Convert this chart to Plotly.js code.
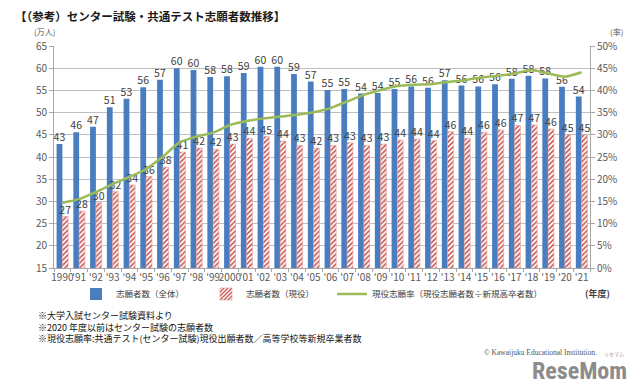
<!DOCTYPE html>
<html>
<head>
<meta charset="utf-8">
<script src="https://cdn.plot.ly/plotly-3.0.1.min.js"></script>
<style>html,body{margin:0;padding:0;background:#fff;}#chart{width:640px;height:390px;}</style>
</head>
<body>
<div id="chart"></div>
<script>
// ---- data ----
const years = ['1990',"'91","'92","'93","'94","'95","'96","'97","'98","'99",'2000',"'01","'02","'03","'04","'05","'06","'07","'08","'09","'10","'11","'12","'13","'14","'15","'16","'17","'18","'19","'20","'21"];
// 志願者数（全体） 万人
const totalApplicants = [42.9,45.6,46.8,51.2,53.1,55.7,57.4,60.0,59.6,58.0,58.2,58.9,60.3,60.3,58.7,57.0,55.1,55.3,54.3,54.4,55.3,55.9,55.6,57.3,56.1,55.9,56.4,57.6,58.3,57.7,55.8,53.6];
// 志願者数（現役） 万人
const currentApplicants = [26.6,27.8,29.7,32.2,33.7,35.6,37.7,41.1,42.0,41.7,42.9,44.2,44.6,43.6,42.6,42.0,42.6,43.2,42.6,42.9,43.8,44.0,43.7,45.7,44.2,45.6,46.1,47.1,47.2,46.3,45.0,45.0];
// 現役志願率 %
const currentRate = [14.7,15.5,17.1,18.9,20.5,22.3,25.1,28.3,29.6,30.5,32.2,33.1,33.7,34.1,34.5,35.1,36.0,37.5,39.0,40.1,41.0,41.3,41.4,41.9,42.3,42.9,43.3,43.8,44.6,43.8,43.1,44.1];

const seriesNames = ['志願者数（全体）','志願者数（現役）','現役志願率（現役志願者数÷新規高卒者数）'];
const footnotes = ['※大学入試センター試験資料より','※2020 年度以前はセンター試験の志願者数','※現役志願率:共通テスト(センター試験)現役出願者数／高等学校等新規卒業者数'];

const FONT = '"Noto Sans CJK JP", "Noto Sans", sans-serif';
const W = 640, H = 390, L = 54, R = 50, T = 46, B = 122;
const pw = W - L - R, ph = H - T - B;
const px = x => (x - L) / pw;
const py = y => (H - B - y) / ph;

const traces = [
  {
    type: 'bar', name: seriesNames[0], x: years, y: totalApplicants, legend: 'legend',
    marker: {color: '#4A7DBF', line: {width: 0}},
    text: totalApplicants.map(v => Math.round(v).toString()),
    textposition: 'outside', constraintext: 'none', cliponaxis: false,
    textfont: {family: FONT, size: 10.5, color: '#404040'},
    hoverinfo: 'skip'
  },
  {
    type: 'bar', name: seriesNames[1], x: years, y: currentApplicants, legend: 'legend',
    marker: {color: '#FFFFFF', line: {width: 0.6, color: '#E39A98'},
             pattern: {shape: '/', fgcolor: '#C8504D', bgcolor: '#FFFFFF', size: 3.5, solidity: 0.45}},
    text: currentApplicants.map(v => Math.round(v).toString()),
    textposition: 'outside', constraintext: 'none', cliponaxis: false,
    textfont: {family: FONT, size: 10.5, color: '#404040'},
    hoverinfo: 'skip'
  },
  {
    type: 'scatter', mode: 'lines', name: seriesNames[2], x: years, y: currentRate, yaxis: 'y2', legend: 'legend2',
    line: {color: '#9BBB59', width: 2.5, shape: 'spline', smoothing: 0.6},
    hoverinfo: 'skip'
  }
];

const legendFont = {family: FONT, size: 8.5, color: '#404040'};

const layout = {
  width: W, height: H,
  margin: {l: L, r: R, t: T, b: B, pad: 0},
  paper_bgcolor: '#FFFFFF', plot_bgcolor: '#FFFFFF',
  font: {family: FONT, size: 10, color: '#595959'},
  title: {text: '<b>【（参考）センター試験・共通テスト志願者数推移】</b>', x: 15 / W, xanchor: 'left', xref: 'container',
          y: 1 - 17 / H, yanchor: 'middle', yref: 'container',
          font: {family: FONT, size: 11.5, color: '#1A1A1A'}},
  barmode: 'group', bargap: 0.31, bargroupgap: 0,
  showlegend: true,
  legend: {orientation: 'h', x: px(76), xanchor: 'left', xref: 'paper', y: py(294), yanchor: 'middle',
           entrywidth: 85, entrywidthmode: 'pixels', itemwidth: 30, traceorder: 'normal',
           font: legendFont, bgcolor: 'rgba(0,0,0,0)'},
  legend2: {orientation: 'h', x: px(332), xanchor: 'left', xref: 'paper', y: py(294), yanchor: 'middle',
            itemwidth: 30, font: legendFont, bgcolor: 'rgba(0,0,0,0)'},
  xaxis: {type: 'category', showline: true, linecolor: '#A6A6A6', linewidth: 1,
          ticks: 'outside', tickson: 'boundaries', ticklen: 3, tickcolor: '#A6A6A6',
          tickfont: {family: FONT, size: 10, color: '#595959'}, tickangle: 0, showgrid: false, fixedrange: true},
  yaxis: {range: [15, 65], dtick: 5, tick0: 15, showline: true, linecolor: '#A6A6A6', linewidth: 1,
          ticks: 'outside', ticklen: 4, tickcolor: '#A6A6A6', showgrid: true, gridcolor: '#BFBFBF', gridwidth: 1,
          zeroline: false, tickfont: {family: FONT, size: 10, color: '#595959'}, fixedrange: true},
  yaxis2: {range: [0, 50], dtick: 5, tick0: 0, overlaying: 'y', side: 'right', ticksuffix: '%',
           showline: true, linecolor: '#A6A6A6', linewidth: 1, ticks: 'outside', ticklen: 4, tickcolor: '#A6A6A6',
           showgrid: false, zeroline: false, tickfont: {family: FONT, size: 10, color: '#595959'}, fixedrange: true},
  annotations: [
    {text: '(万人)', xref: 'paper', yref: 'paper', x: px(44.5), y: py(32), showarrow: false,
     font: {family: FONT, size: 8, color: '#595959'}, xanchor: 'center', yanchor: 'middle', borderpad: 0},
    {text: '(率)', xref: 'paper', yref: 'paper', x: px(616), y: py(32), showarrow: false,
     font: {family: FONT, size: 8, color: '#595959'}, xanchor: 'center', yanchor: 'middle', borderpad: 0},
    {text: '<b>(年度)</b>', xref: 'paper', yref: 'paper', x: px(597), y: py(293), showarrow: false,
     font: {family: FONT, size: 9, color: '#404040'}, xanchor: 'center', yanchor: 'middle'},
    {text: footnotes.join('<br>'), xref: 'paper', yref: 'paper', x: px(36), y: py(327), showarrow: false, align: 'left',
     font: {family: FONT, size: 9, color: '#111111'}, xanchor: 'left', yanchor: 'middle'},
    {text: '© Kawaijuku Educational Institution.', xref: 'paper', yref: 'paper', x: px(482), y: py(352), showarrow: false,
     font: {family: '"Liberation Serif", serif', size: 7.5, color: '#555555'}, xanchor: 'left', yanchor: 'middle'},
    {text: '<b>ReseMom</b>', xref: 'paper', yref: 'paper', x: px(530), y: py(371), showarrow: false,
     font: {family: '"Liberation Sans Narrow", "Roboto Condensed", "Liberation Sans", sans-serif', size: 24, color: '#8C8C8C'},
     xanchor: 'left', yanchor: 'middle'},
    {text: 'リセマム', xref: 'paper', yref: 'paper', x: px(614), y: py(354), showarrow: false,
     font: {family: FONT, size: 5, color: '#9A9A9A'}, xanchor: 'center', yanchor: 'middle'}
  ]
};

Plotly.newPlot('chart', traces, layout, {displayModeBar: false, staticPlot: true});
</script>
</body>
</html>
